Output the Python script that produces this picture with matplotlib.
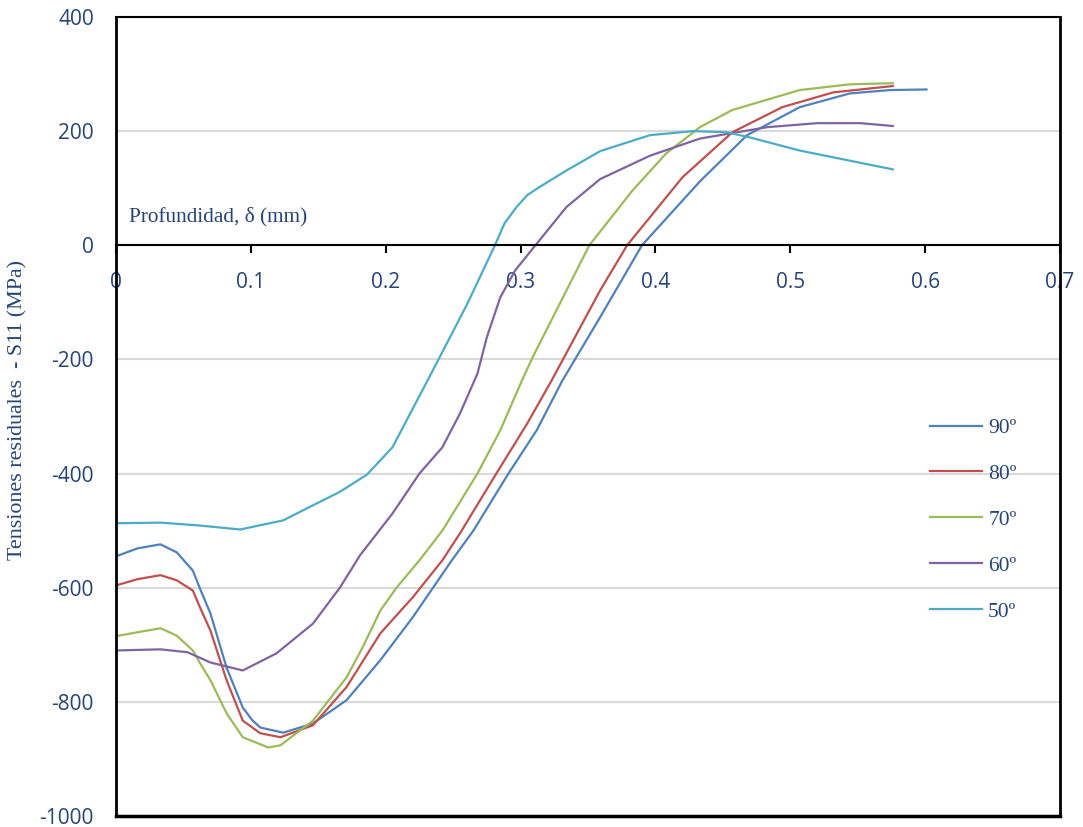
import matplotlib.pyplot as plt

# datos: profundidad (mm) y tension residual S11 (MPa)
x_90 = [0, 0.016, 0.033, 0.045, 0.057, 0.062, 0.070, 0.082, 0.094, 0.101, 0.107, 0.124, 0.146,
        0.171, 0.196, 0.220, 0.249, 0.265, 0.291, 0.312, 0.331, 0.359, 0.390, 0.433, 0.468,
        0.507, 0.544, 0.574, 0.601]
s_90 = [-545, -531, -524, -538, -570, -600, -645, -740, -810, -832, -845, -854, -838,
        -797, -727, -652, -552, -500, -400, -324, -237, -126, 0, 112, 193,
        242, 266, 272, 273]

x_80 = [0, 0.016, 0.033, 0.045, 0.057, 0.062, 0.070, 0.082, 0.094, 0.107, 0.122, 0.146, 0.171,
        0.196, 0.220, 0.242, 0.255, 0.282, 0.305, 0.323, 0.359, 0.379, 0.420, 0.457, 0.494,
        0.532, 0.576]
s_80 = [-596, -585, -578, -587, -605, -633, -675, -762, -833, -855, -862, -841, -774,
        -680, -617, -552, -505, -400, -312, -237, -79, 0, 119, 198, 242,
        268, 279]

x_70 = [0, 0.016, 0.033, 0.045, 0.057, 0.062, 0.070, 0.082, 0.094, 0.113, 0.122, 0.146,
        0.171, 0.183, 0.196, 0.208, 0.225, 0.242, 0.268, 0.285, 0.301, 0.309, 0.351, 0.383,
        0.408, 0.433, 0.457, 0.507, 0.544, 0.576]
s_70 = [-685, -678, -671, -684, -710, -731, -762, -820, -862, -880, -876, -833,
        -757, -704, -640, -600, -552, -500, -400, -324, -237, -196, 0, 96,
        161, 207, 237, 272, 282, 284]

x_60 = [0, 0.016, 0.033, 0.053, 0.070, 0.094, 0.119, 0.146, 0.166, 0.181, 0.205, 0.225,
        0.242, 0.255, 0.268, 0.275, 0.285, 0.296, 0.311, 0.334, 0.359, 0.396, 0.433, 0.483,
        0.520, 0.552, 0.576]
s_60 = [-710, -709, -708, -713, -731, -745, -715, -663, -600, -543, -470, -400,
        -354, -295, -225, -161, -91, -44, 0, 67, 116, 157, 187, 207,
        214, 214, 209]

x_50 = [0, 0.033, 0.062, 0.092, 0.124, 0.144, 0.166, 0.186, 0.205, 0.231, 0.260, 0.281,
        0.288, 0.297, 0.305, 0.314, 0.334, 0.359, 0.396, 0.428, 0.453, 0.470, 0.507, 0.576]
s_50 = [-487, -486, -491, -498, -482, -458, -432, -402, -354, -237, -105, 0,
        38, 67, 88, 102, 131, 165, 193, 200, 198, 189, 166, 133]

series = [('90º', x_90, s_90, '#4F81BD'),
          ('80º', x_80, s_80, '#C0504D'),
          ('70º', x_70, s_70, '#9BBB59'),
          ('60º', x_60, s_60, '#8064A2'),
          ('50º', x_50, s_50, '#4BACC6')]

azul = '#264478'
serif = 'Liberation Serif'
W, H = 1083, 827

plt.rcParams['axes.unicode_minus'] = False

fig = plt.figure(figsize=(W / 100, H / 100), dpi=100)
ax = fig.add_axes([116 / W, 1 - 816 / H, (1060 - 116) / W, (816 - 17) / H])

for etiqueta, xs, ys, color in series:
    ax.plot(xs, ys, color=color, lw=1.6, label=etiqueta, solid_joinstyle='round')

ax.set_xlim(0, 0.7)
ax.set_ylim(-1000, 400)
ax.set_yticks(range(-1000, 401, 200))
ax.set_xticks([0, 0.1, 0.2, 0.3, 0.4, 0.5, 0.6, 0.7])
ax.set_xticklabels(['0', '0.1', '0.2', '0.3', '0.4', '0.5', '0.6', '0.7'])

# rejilla horizontal
ax.grid(axis='y', color='#D9D9D9', lw=1.5)
ax.set_axisbelow(True)

# eje x cruzando en cero
ax.spines['bottom'].set_position(('data', 0))
ax.spines['bottom'].set_linewidth(1.5)
ax.spines['left'].set_linewidth(2)
ax.spines['top'].set_linewidth(1.5)
ax.spines['right'].set_linewidth(2)
ax.axhline(-1000, color='black', lw=2.5, clip_on=False, zorder=5)

ax.tick_params(axis='x', direction='out', length=6, width=1.5, pad=13,
               labelsize=15, labelcolor=azul)
ax.tick_params(axis='y', length=0, pad=16, labelsize=15, labelcolor=azul)
for lbl in ax.get_xticklabels() + ax.get_yticklabels():
    lbl.set_fontfamily('Open Sans')

ax.text(0.010, 50, 'Profundidad, δ (mm)', fontsize=15.3, family=serif, color=azul,
        va='center', ha='left')

fig.text(18 / W, 1 - 410 / H, 'Tensiones residuales  - S11 (MPa)', rotation=90,
         fontsize=15.8, family=serif, color=azul, ha='center', va='center')

leg = ax.legend(loc='upper left', bbox_to_anchor=(930 / W, 1 - 418 / H),
                bbox_transform=fig.transFigure, frameon=False, borderpad=0,
                borderaxespad=0, handlelength=2.4, handletextpad=0.3,
                labelspacing=1.2, prop={'family': serif, 'size': 15.5})
for t in leg.get_texts():
    t.set_color(azul)

fig.savefig('out.png', dpi=100)
